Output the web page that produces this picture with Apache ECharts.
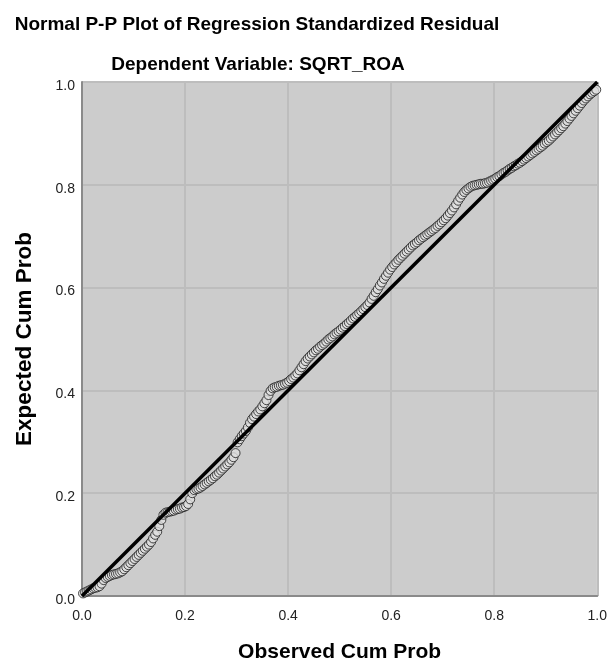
<!DOCTYPE html>
<html>
<head>
<meta charset="utf-8">
<script src="https://cdn.jsdelivr.net/npm/echarts@6/dist/echarts.min.js"></script>
<style>html,body{margin:0;padding:0;background:#fff}#c{width:610px;height:668px}</style>
</head>
<body>
<div id="c"></div>
<script>
var titleText = "Normal P-P Plot of Regression Standardized Residual";
var subtitleText = "Dependent Variable: SQRT_ROA";
var xName = "Observed Cum Prob";
var yName = "Expected Cum Prob";
var tickValues = [0.0, 0.2, 0.4, 0.6, 0.8, 1.0];
var refLine = [[0, 0], [1, 1]];
var observed = [0.002,0.006,0.010,0.014,0.018,0.022,0.026,0.030,0.034,0.038,0.042,0.046,0.050,0.054,0.058,0.062,0.066,0.070,0.074,0.078,0.082,0.086,0.090,0.094,0.098,0.102,0.106,0.110,0.114,0.118,0.122,0.126,0.130,0.134,0.138,0.142,0.146,0.150,0.154,0.158,0.162,0.166,0.170,0.174,0.178,0.182,0.186,0.190,0.194,0.198,0.202,0.206,0.210,0.214,0.218,0.222,0.226,0.230,0.234,0.238,0.242,0.246,0.250,0.254,0.258,0.262,0.266,0.270,0.274,0.278,0.282,0.286,0.290,0.294,0.298,0.302,0.306,0.310,0.314,0.318,0.322,0.326,0.330,0.334,0.338,0.342,0.346,0.350,0.354,0.358,0.362,0.366,0.370,0.374,0.378,0.382,0.386,0.390,0.394,0.398,0.402,0.406,0.410,0.414,0.418,0.422,0.426,0.430,0.434,0.438,0.442,0.446,0.450,0.454,0.458,0.462,0.466,0.470,0.474,0.478,0.482,0.486,0.490,0.494,0.498,0.502,0.506,0.510,0.514,0.518,0.522,0.526,0.530,0.534,0.538,0.542,0.546,0.550,0.554,0.558,0.562,0.566,0.570,0.574,0.578,0.582,0.586,0.590,0.594,0.598,0.602,0.606,0.610,0.614,0.618,0.622,0.626,0.630,0.634,0.638,0.642,0.646,0.650,0.654,0.658,0.662,0.666,0.670,0.674,0.678,0.682,0.686,0.690,0.694,0.698,0.702,0.706,0.710,0.714,0.718,0.722,0.726,0.730,0.734,0.738,0.742,0.746,0.750,0.754,0.758,0.762,0.766,0.770,0.774,0.778,0.782,0.786,0.790,0.794,0.798,0.802,0.806,0.810,0.814,0.818,0.822,0.826,0.830,0.834,0.838,0.842,0.846,0.850,0.854,0.858,0.862,0.866,0.870,0.874,0.878,0.882,0.886,0.890,0.894,0.898,0.902,0.906,0.910,0.914,0.918,0.922,0.926,0.930,0.934,0.938,0.942,0.946,0.950,0.954,0.958,0.962,0.966,0.970,0.974,0.978,0.982,0.986,0.990,0.994,0.998];
var expected = [0.005,0.007,0.009,0.011,0.013,0.015,0.016,0.017,0.019,0.024,0.031,0.035,0.037,0.039,0.041,0.042,0.043,0.044,0.046,0.048,0.052,0.056,0.060,0.064,0.068,0.072,0.076,0.080,0.084,0.088,0.092,0.096,0.100,0.105,0.112,0.119,0.125,0.136,0.148,0.158,0.162,0.163,0.164,0.165,0.166,0.168,0.169,0.170,0.172,0.173,0.175,0.179,0.188,0.200,0.206,0.208,0.209,0.211,0.214,0.217,0.220,0.223,0.226,0.229,0.233,0.236,0.240,0.244,0.248,0.252,0.256,0.260,0.265,0.270,0.278,0.299,0.305,0.311,0.316,0.321,0.328,0.337,0.344,0.349,0.354,0.359,0.363,0.369,0.375,0.381,0.391,0.399,0.404,0.406,0.407,0.409,0.410,0.411,0.413,0.415,0.418,0.422,0.425,0.429,0.433,0.439,0.445,0.451,0.457,0.462,0.466,0.470,0.474,0.478,0.481,0.485,0.488,0.491,0.495,0.499,0.502,0.505,0.509,0.512,0.515,0.518,0.522,0.525,0.529,0.532,0.536,0.540,0.543,0.547,0.550,0.554,0.558,0.562,0.566,0.571,0.578,0.584,0.591,0.597,0.604,0.610,0.617,0.623,0.629,0.635,0.640,0.645,0.649,0.654,0.658,0.662,0.666,0.670,0.674,0.678,0.682,0.685,0.688,0.692,0.695,0.698,0.701,0.704,0.707,0.710,0.713,0.716,0.720,0.723,0.727,0.731,0.735,0.740,0.745,0.750,0.756,0.762,0.769,0.775,0.781,0.786,0.790,0.793,0.796,0.798,0.799,0.800,0.801,0.802,0.802,0.803,0.804,0.806,0.808,0.810,0.812,0.815,0.817,0.820,0.823,0.825,0.828,0.831,0.833,0.836,0.838,0.841,0.843,0.846,0.849,0.852,0.855,0.858,0.861,0.864,0.867,0.870,0.873,0.876,0.880,0.883,0.886,0.890,0.894,0.898,0.902,0.906,0.910,0.914,0.919,0.924,0.929,0.934,0.939,0.944,0.949,0.954,0.959,0.964,0.968,0.972,0.976,0.979,0.982,0.985];

var points = observed.map(function (x, i) { return [x, expected[i]]; });
var chart = echarts.init(document.getElementById('c'), null, {renderer: 'canvas'});
var fam = 'Liberation Sans, Arial, sans-serif';
function fmt(v) { return v.toFixed(1); }
chart.setOption({
  animation: false,
  backgroundColor: '#ffffff',
  graphic: [
    {type: 'text', x: 257, y: 25, style: {text: titleText, font: 'bold 19px ' + fam, fill: '#000', textAlign: 'center', textVerticalAlign: 'middle'}},
    {type: 'text', x: 258, y: 65, style: {text: subtitleText, font: 'bold 19px ' + fam, fill: '#000', textAlign: 'center', textVerticalAlign: 'middle'}}
  ],
  grid: {left: 82, right: 10, top: 82, bottom: 67, show: true, backgroundColor: '#cccccc', borderColor: '#dcdcdc', borderWidth: 1},
  xAxis: {
    type: 'value', min: 0, max: 1, interval: 0.2,
    name: xName, nameLocation: 'middle', nameGap: 46,
    nameTextStyle: {fontFamily: fam, fontSize: 21, fontWeight: 'bold', color: '#000'},
    axisLine: {show: true, onZero: false, lineStyle: {color: '#8a8a8a', width: 2}},
    axisTick: {show: false},
    axisLabel: {formatter: fmt, fontFamily: fam, fontSize: 14, color: '#222', margin: 13,
      customValues: tickValues},
    splitLine: {show: true, lineStyle: {color: '#bdbdbd', width: 2}}
  },
  yAxis: {
    type: 'value', min: 0, max: 1, interval: 0.2,
    name: yName, nameLocation: 'middle', nameGap: 46,
    nameTextStyle: {fontFamily: fam, fontSize: 22.5, fontWeight: 'bold', color: '#000'},
    axisLine: {show: true, onZero: false, lineStyle: {color: '#8a8a8a', width: 2}},
    axisTick: {show: false},
    axisLabel: {formatter: fmt, fontFamily: fam, fontSize: 14, color: '#222', margin: 7, verticalAlign: 'top', lineHeight: 8},
    splitLine: {show: true, lineStyle: {color: '#bdbdbd', width: 2}}
  },
  series: [
    {
      type: 'scatter', data: points, symbol: 'circle', symbolSize: 9,
      itemStyle: {color: '#dedede', borderColor: '#1e1e1e', borderWidth: 1},
      z: 2
    },
    {
      type: 'line', data: refLine, symbol: 'none',
      lineStyle: {color: '#000', width: 3.5}, z: 3
    }
  ]
});
</script>
</body>
</html>
